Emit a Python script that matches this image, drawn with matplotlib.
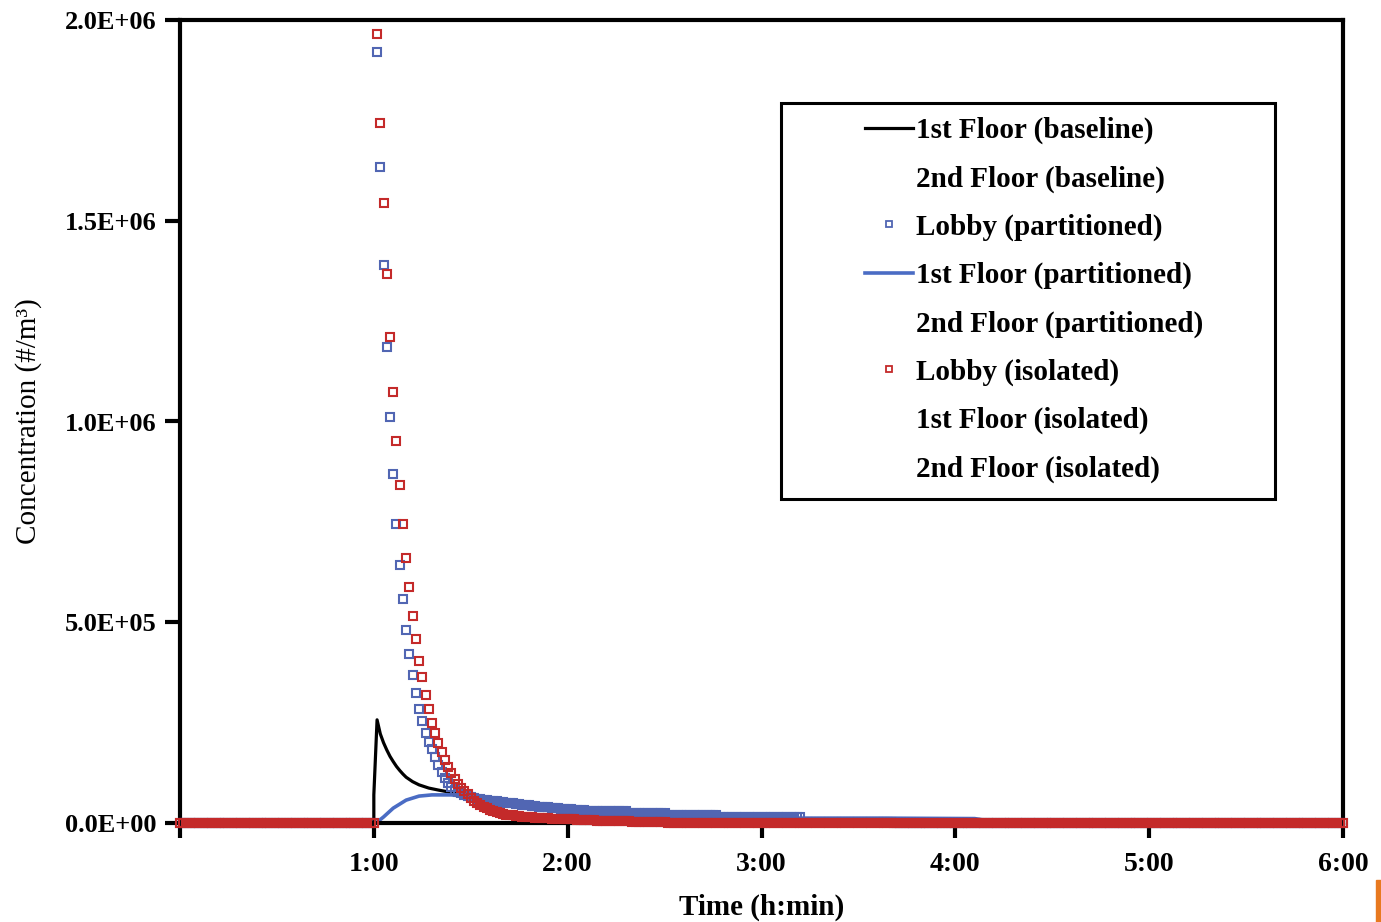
import numpy as np
import matplotlib
matplotlib.use("Agg")
import matplotlib.pyplot as plt
from matplotlib.lines import Line2D
from matplotlib.patches import Rectangle

plt.rcParams['font.family'] = ['Liberation Serif', 'DejaVu Serif']

# model output every minute, 0..360 min
minutes = np.arange(0, 361)

# Lobby (isolated), E6 #/m3, t = 61..160 min; zero elsewhere
lobby_iso_peak = [
    1.965, 1.744, 1.544, 1.368, 1.211, 1.074, 0.952, 0.842, 0.745, 0.660,
    0.588, 0.516, 0.458, 0.404, 0.364, 0.319, 0.284, 0.249, 0.224, 0.199,
    0.177, 0.158, 0.140, 0.124, 0.110, 0.098, 0.088, 0.079, 0.071, 0.063,
    0.056, 0.050, 0.045, 0.041, 0.037, 0.033, 0.030, 0.027, 0.025, 0.023,
    0.021, 0.020, 0.019, 0.018, 0.017, 0.016, 0.015, 0.014, 0.014, 0.013,
    0.013, 0.012, 0.012, 0.012, 0.011, 0.011, 0.010, 0.010, 0.010, 0.009,
    0.009, 0.009, 0.008, 0.008, 0.008, 0.007, 0.007, 0.007, 0.006, 0.006,
    0.006, 0.005, 0.005, 0.005, 0.005, 0.004, 0.004, 0.004, 0.004, 0.003,
    0.003, 0.003, 0.003, 0.003, 0.002, 0.002, 0.002, 0.002, 0.002, 0.002,
    0.001, 0.001, 0.001, 0.001, 0.001, 0.001, 0.001, 0.001, 0.001, 0.001,
]
lobby_isolated = [0.0] * 61 + lobby_iso_peak + [0.0] * 200

# Lobby (partitioned), E6 #/m3, t = 61..128 min, then flat steps
lobby_part_peak = [
    1.921, 1.634, 1.390, 1.186, 1.011, 0.869, 0.745, 0.643, 0.558, 0.481,
    0.421, 0.369, 0.324, 0.284, 0.254, 0.224, 0.202, 0.184, 0.164, 0.144,
    0.127, 0.112, 0.100, 0.090, 0.083, 0.078, 0.074, 0.070, 0.067, 0.065,
    0.063, 0.061, 0.059, 0.058, 0.057, 0.056, 0.055, 0.054, 0.053, 0.052,
    0.051, 0.050, 0.049, 0.048, 0.047, 0.046, 0.045, 0.044, 0.043, 0.042,
    0.041, 0.040, 0.040, 0.039, 0.038, 0.037, 0.037, 0.036, 0.035, 0.035,
    0.034, 0.033, 0.033, 0.032, 0.032, 0.031, 0.031, 0.030,
]
lobby_part_tail = ([0.029] * 10 + [0.024] * 12 + [0.019] * 16
                   + [0.015] * 26 + [0.002] * 28)
lobby_partitioned = [0.0] * 61 + lobby_part_peak + lobby_part_tail + [0.0] * 140

# 1st Floor (baseline), E6 #/m3
floor1_base_t = [0, 60, 60, 61, 62, 63, 64, 65, 66, 67, 68, 69, 70, 72, 74,
                 77, 80, 84, 87, 90, 100, 120, 150, 200, 250, 360]
floor1_base_v = [0, 0, 0.07, 0.257, 0.222, 0.200, 0.182, 0.166, 0.153, 0.141,
                 0.131, 0.122, 0.114, 0.103, 0.095, 0.087, 0.082, 0.076,
                 0.071, 0.064, 0.048, 0.030, 0.016, 0.006, 0.002, 0]

# 1st Floor (partitioned), E6 #/m3
floor1_part_t = [0, 60, 61, 63, 66, 70, 74, 78, 84, 88, 95, 100, 111, 120,
                 129, 139, 151, 167, 193, 220, 246, 252, 360]
floor1_part_v = [0, 0, 0.002, 0.015, 0.037, 0.057, 0.067, 0.070, 0.070, 0.067,
                 0.058, 0.052, 0.042, 0.035, 0.029, 0.024, 0.019, 0.015,
                 0.012, 0.012, 0.011, 0.003, 0.001]

x_ticks = [0, 60, 120, 180, 240, 300, 360]
x_labels = ["", "1:00", "2:00", "3:00", "4:00", "5:00", "6:00"]
y_ticks = [0, 0.5e6, 1.0e6, 1.5e6, 2.0e6]
y_labels = ["0.0E+00", "5.0E+05", "1.0E+06", "1.5E+06", "2.0E+06"]

legend_labels = ["1st Floor (baseline)", "2nd Floor (baseline)",
                 "Lobby (partitioned)", "1st Floor (partitioned)",
                 "2nd Floor (partitioned)", "Lobby (isolated)",
                 "1st Floor (isolated)", "2nd Floor (isolated)"]

BLUE_M = '#5166b3'
RED_M = '#c42a2a'
BLUE_L = '#4a6cc4'
MS, MEW = 5.4, 1.5

fig = plt.figure(figsize=(13.81, 9.22), dpi=100)
ax = fig.add_axes([180 / 1381, 1 - 823 / 922, 1163 / 1381, 803 / 922])

ax.plot(floor1_base_t, np.array(floor1_base_v) * 1e6, color='black', lw=2.3, zorder=2)
ax.plot(floor1_part_t, np.array(floor1_part_v) * 1e6, color=BLUE_L, lw=2.6, zorder=2)
ax.plot(minutes, np.array(lobby_partitioned) * 1e6, ls='none', marker='s', ms=MS,
        mfc='none', mec=BLUE_M, mew=MEW, zorder=3, clip_on=False)
ax.plot(minutes, np.array(lobby_isolated) * 1e6, ls='none', marker='s', ms=MS,
        mfc='none', mec=RED_M, mew=MEW, zorder=3.1, clip_on=False)

ax.set_xlim(0, 360)
ax.set_ylim(0, 2.0e6)
ax.set_xticks(x_ticks)
ax.set_xticklabels(x_labels, fontsize=20, fontweight='bold')
ax.set_yticks(y_ticks)
ax.set_yticklabels(y_labels, fontsize=19, fontweight='bold')
ax.tick_params(axis='both', direction='out', length=11, width=3, color='black')
ax.tick_params(axis='x', pad=10)
ax.tick_params(axis='y', pad=6)
for s in ax.spines.values():
    s.set_linewidth(3)
    s.set_zorder(2.5)

ax.set_xlabel("Time (h:min)", fontsize=21, fontweight='bold', labelpad=12)
ax.set_ylabel("Concentration (#/m³)", fontsize=21, labelpad=16)

handles = [
    Line2D([], [], color='black', lw=2.3),
    Line2D([], [], color='none'),
    Line2D([], [], ls='none', marker='s', ms=5, mfc='none', mec=BLUE_M, mew=1.3),
    Line2D([], [], color=BLUE_L, lw=2.6),
    Line2D([], [], color='none'),
    Line2D([], [], ls='none', marker='s', ms=5, mfc='none', mec=RED_M, mew=1.3),
    Line2D([], [], color='none'),
    Line2D([], [], color='none'),
]
leg = ax.legend(handles, legend_labels, loc='upper left',
                bbox_to_anchor=((865 - 180) / 1163, (823 - 117) / 803),
                frameon=False, borderpad=0, borderaxespad=0,
                handlelength=1.65, handletextpad=0.1, labelspacing=0.72,
                prop={'family': 'Liberation Serif', 'weight': 'bold', 'size': 21})
ax.add_patch(Rectangle(((781 - 180) / 1163, (823 - 499) / 803),
                       (1275 - 781) / 1163, (499 - 103) / 803,
                       transform=ax.transAxes, fill=False, lw=2.2,
                       edgecolor='black', zorder=4))

# orange edge mark at the bottom right of the page
fig.add_artist(Rectangle((1376 / 1381, 0), 5 / 1381, 42 / 922,
                         transform=fig.transFigure, color='#e8791f'))

fig.savefig("out.png", dpi=100)
